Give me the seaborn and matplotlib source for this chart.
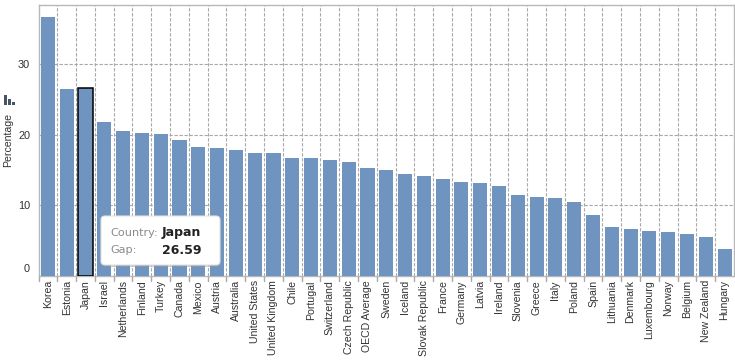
import numpy as np
import pandas as pd
import seaborn as sns
import matplotlib
matplotlib.use("Agg")
import matplotlib.pyplot as plt
from matplotlib.patches import FancyBboxPatch, Rectangle
from matplotlib.transforms import IdentityTransform, ScaledTranslation

countries = ["Korea", "Estonia", "Japan", "Israel", "Netherlands", "Finland", "Turkey", "Canada",
             "Mexico", "Austria", "Australia", "United States", "United Kingdom", "Chile", "Portugal",
             "Switzerland", "Czech Republic", "OECD Average", "Sweden", "Iceland", "Slovak Republic",
             "France", "Germany", "Latvia", "Ireland", "Slovenia", "Greece", "Italy", "Poland", "Spain",
             "Lithuania", "Denmark", "Luxembourg", "Norway", "Belgium", "New Zealand", "Hungary"]
gap = [36.7, 26.5, 26.59, 21.8, 20.5, 20.3, 20.1, 19.3,
       18.3, 18.1, 17.9, 17.4, 17.4, 16.7, 16.7,
       16.5, 16.1, 15.3, 15.1, 14.5, 14.2,
       13.7, 13.4, 13.2, 12.7, 11.5, 11.2, 11.1, 10.5, 8.6,
       6.9, 6.7, 6.4, 6.2, 5.9, 5.6, 3.8]
y_ticks = [0, 10, 20, 30]

W, H = 735, 364
BAR = "#6f94bf"
GRID = "#a8a8a8"
TEXT = "#333333"

sns.set_theme(style="white")
plt.rcParams["font.family"] = ["Liberation Sans", "DejaVu Sans"]

df = pd.DataFrame({"Country": countries, "Gap": gap})

fig = plt.figure(figsize=(W / 100, H / 100), dpi=100)
ax = fig.add_axes([38.5 / W, (H - 276) / H, 695.5 / W, 271.5 / H])

sns.barplot(data=df, x="Country", y="Gap", color=BAR, saturation=1, width=0.75,
            edgecolor="none", linewidth=0, ax=ax, zorder=3)

# Highlighted bar
hi = ax.patches[countries.index("Japan")]
hi.set_edgecolor("black")
hi.set_linewidth(1.1)

n = len(countries)
ax.set_xlim(-0.5, n - 0.5)
ax.set_ylim(0, 38.5)
ax.set_xlabel("")
ax.set_ylabel("Percentage", fontsize=7.6, color=TEXT)
ax.yaxis.set_label_coords(-25.5 / 695.5, 0.5)

# Grid on the band borders
for b in np.arange(0.5, n - 0.5):
    ax.axvline(b, color=GRID, lw=0.8, ls=(0, (3, 1.5)), zorder=1)
for t in y_ticks[1:]:
    ax.axhline(t, color=GRID, lw=0.8, ls=(0, (3, 1.5)), zorder=1)

ax.set_xticks(np.arange(n))
ax.set_xticklabels(countries, rotation=90, fontsize=7.6, color=TEXT, ha="center", va="top")
ax.tick_params(axis="x", length=0, pad=3)
for b in np.arange(-0.5, n - 0.5):
    ax.plot([b, b], [0, -5 / 7.05], color=GRID, lw=1, clip_on=False, zorder=2)

ax.set_yticks(y_ticks)
ax.set_yticklabels([str(t) for t in y_ticks], fontsize=7.9, color=TEXT)
ax.tick_params(axis="y", length=5, width=1, color=GRID, pad=1)
zero = ax.get_yticklabels()[0]
zero.set_va("bottom")
zero.set_transform(zero.get_transform() + ScaledTranslation(0, 2 / 100, fig.dpi_scale_trans))

for s in ax.spines.values():
    s.set_color("#b8b8b8")
    s.set_linewidth(1)

# Tooltip with a soft shadow
shadow = FancyBboxPatch((102, H - 267), 119, 49, boxstyle="round,pad=0,rounding_size=4",
                        transform=IdentityTransform(), fc="#9a9a9a", ec="none", alpha=0.45, zorder=9)
fig.add_artist(shadow)
box = FancyBboxPatch((101, H - 265), 119, 49, boxstyle="round,pad=0,rounding_size=4",
                     transform=IdentityTransform(), fc="white", ec="#e2e2e2", lw=0.8, zorder=10)
fig.add_artist(box)
tip = dict(family=["DejaVu Sans"], va="center", zorder=11)
fig.text(110 / W, 1 - 233 / H, "Country:", color="#8a8a8a", fontsize=8.1, **tip)
fig.text(162 / W, 1 - 233 / H, "Japan", color="#222222", fontweight="bold", fontsize=9, **tip)
fig.text(110 / W, 1 - 250 / H, "Gap:", color="#8a8a8a", fontsize=8.1, **tip)
fig.text(162 / W, 1 - 250 / H, "26.59", color="#222222", fontweight="bold", fontsize=9, **tip)

# Small chart-type icon left of the axis
for x0, w, top in [(4, 3, 95), (8, 3, 99), (12, 3, 102)]:
    fig.add_artist(Rectangle((x0 / W, 1 - 105 / H), w / W, (105 - top) / H,
                             transform=fig.transFigure, fc="#44546a", ec="none"))

fig.savefig("out.png", dpi=100, facecolor="white")
